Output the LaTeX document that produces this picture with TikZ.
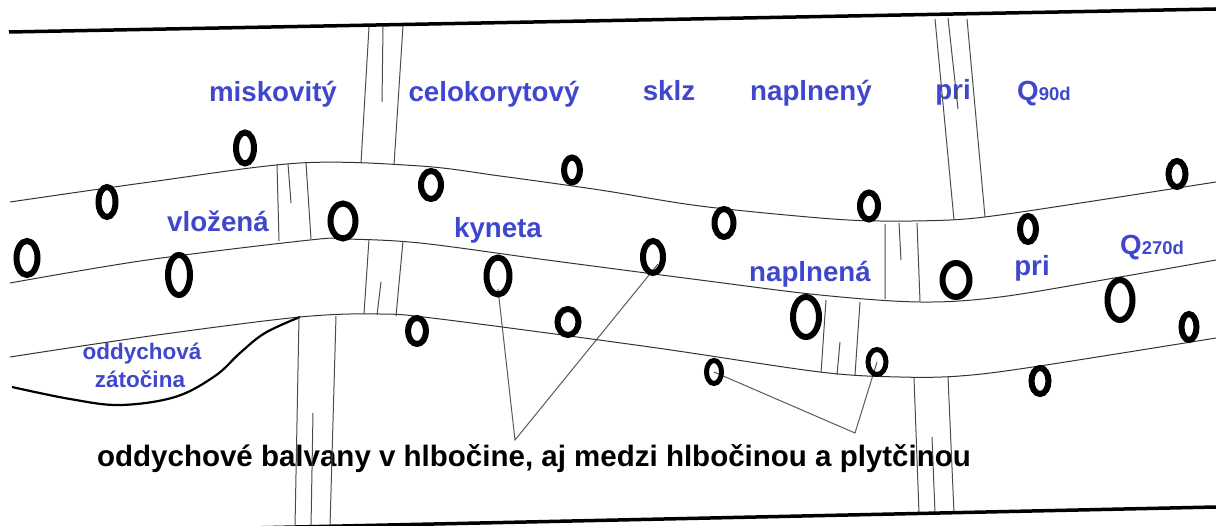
\documentclass[tikz,border=0pt]{standalone}
\usepackage{fontspec}
\setmainfont{Liberation Sans}
\usetikzlibrary{shapes.geometric,backgrounds}
\definecolor{labelblue}{RGB}{63,72,204}
\newcommand\qsub{\fontsize{18.5}{20}\selectfont}

\begin{document}
\begin{tikzpicture}[x=1pt, y=-1pt,
  lbl/.style={text=labelblue, font=\bfseries\fontsize{27.7}{30}\selectfont, inner sep=0pt, anchor=base},
  baylbl/.style={text=labelblue, font=\bfseries\fontsize{22.5}{26}\selectfont, inner sep=0pt, anchor=base},
  balvlbl/.style={font=\bfseries\fontsize{29.5}{32}\selectfont, inner sep=0pt, anchor=base},
  boulder/.style={draw, ellipse, line width=6pt, inner sep=0pt, outer sep=0pt},
  bank/.style={black!80, line width=1pt},
  xsec/.style={black!70, line width=1pt},
  shore/.style={line width=3.5pt},
  pointer/.style={black!65, line width=1pt}
]
\useasboundingbox (0,0) rectangle (1216,526);

% labels
\node[lbl] (misko) at (273,102) {miskovitý};
\node[lbl] (celok) at (494,102) {celokorytový};
\node[lbl] (sklz) at (669,101) {sklz};
\node[lbl] (napl1) at (811,101) {naplnený};
\node[lbl] (pri1) at (953,100) {pri};
\node[lbl, anchor=base west] (q90) at (1017,101) {Q{\qsub 90d}};
\node[lbl] (vloz) at (218,232) {vložená};
\node[lbl] (kyn) at (498,238) {kyneta};
\node[lbl] (napl2) at (810,282) {naplnená};
\node[lbl] (pri2) at (1032,276) {pri};
\node[lbl, anchor=base west] (q270) at (1120,255) {Q{\qsub 270d}};
\node[baylbl] (zatA) at (142,360) {oddychová};
\node[baylbl] (zatB) at (140,388) {zátočina};
\node[balvlbl] (balv) at (534,467) {oddychové balvany v hlbočine, aj medzi hlbočinou a plytčinou};

% banks
\draw[bank] plot[smooth, tension=0.55] coordinates {(10,202) (150,182) (300,163) (420,166) (500,176) (600,190) (700,206) (820,218) (880,221) (950,220) (1000,215) (1100,200) (1216,182)};
\draw[bank] plot[smooth, tension=0.55] coordinates {(10,283) (147,260) (310,240) (345,239) (420,243) (547,260) (700,280) (820,295) (920,302) (1000,297) (1120,277) (1216,260)};
\draw[bank] plot[smooth, tension=0.55] coordinates {(10,357) (150,336) (300,317) (380,314) (440,319) (650,347) (820,372) (900,377) (960,376) (1033,367) (1216,338)};
\draw[line width=2.2pt] plot[smooth, tension=0.6] coordinates {(12,387) (70,399) (120,405) (175,397) (215,376) (240,353) (265,333) (300,317)};

% cross sections
\draw[xsec] (369,27) -- (361,163) (383,27) -- (382,102) (403,26) -- (394,165);
\draw[xsec] (935,19) -- (954,220) (948,18) -- (958,109) (967,19) -- (985,217);
\draw[xsec] (277,164) -- (279,241) (288,164) -- (291,203) (306,163) -- (311,239);
\draw[xsec] (369,239) -- (364,314) (381,282) -- (377,315) (403,241) -- (396,316);
\draw[xsec] (299,317) -- (295,527) (313,413) -- (311,527) (336,316) -- (330,527);
\draw[xsec] (885,224) -- (885,299) (899,223) -- (901,260) (917,223) -- (920,301);
\draw[xsec] (826,300) -- (821,373) (840,342) -- (837,375) (860,302) -- (855,375);
\draw[xsec] (914,378) -- (919,513) (932,437) -- (935,513) (948,377) -- (954,513);

\draw[shore] (9,32) -- (1216,9);
\draw[shore] (250,528) -- (1216,507);

% boulders
\node[boulder, minimum width=18, minimum height=31] (b1) at (245,148) {};
\node[boulder, minimum width=17, minimum height=30] (b2) at (107,202) {};
\node[boulder, minimum width=21, minimum height=34] (b3) at (27,258) {};
\node[boulder, minimum width=22, minimum height=40] (b4) at (179,275) {};
\node[boulder, minimum width=25, minimum height=35] (b5) at (343,221) {};
\node[boulder, minimum width=20, minimum height=28] (b6) at (431,185) {};
\node[boulder, minimum width=16, minimum height=25] (b7) at (572,170) {};
\node[boulder, minimum width=19, minimum height=28] (b8) at (724,223) {};
\node[boulder, minimum width=23, minimum height=37] (b9) at (498,276) {};
\node[boulder, minimum width=20, minimum height=32] (b10) at (653,257) {};
\node[boulder, minimum width=18, minimum height=26] (b11) at (417,331) {};
\node[boulder, minimum width=21, minimum height=26] (b12) at (568,322) {};
\node[boulder, minimum width=15, minimum height=23, line width=5pt] (b13) at (714,372) {};
\node[boulder, minimum width=18, minimum height=25, line width=5pt] (b15) at (877,362) {};
\node[boulder, minimum width=26, minimum height=40] (b14) at (806,317) {};
\node[boulder, minimum width=18, minimum height=27] (b16) at (869,206) {};
\node[boulder, minimum width=16, minimum height=26] (b17) at (1028,229) {};
\node[boulder, minimum width=17, minimum height=26] (b18) at (1177,174) {};
\node[boulder, minimum width=27, minimum height=34] (b19) at (956,280) {};
\node[boulder, minimum width=25, minimum height=40] (b20) at (1120,300) {};
\node[boulder, minimum width=15, minimum height=26] (b21) at (1189,327) {};
\node[boulder, minimum width=17, minimum height=26] (b22) at (1040,381) {};

\coordinate (tipA) at (515,440);
\coordinate (tipB) at (855,433);
\begin{pgfonlayer}{background}
\draw[pointer] ([yshift=-13pt]b9.center) -- (tipA) -- ([shift={(5pt,-7pt)}]b10.center);
\draw[pointer] (b13.center) -- (tipB) -- (b15.center);
\end{pgfonlayer}
\end{tikzpicture}
\end{document}
